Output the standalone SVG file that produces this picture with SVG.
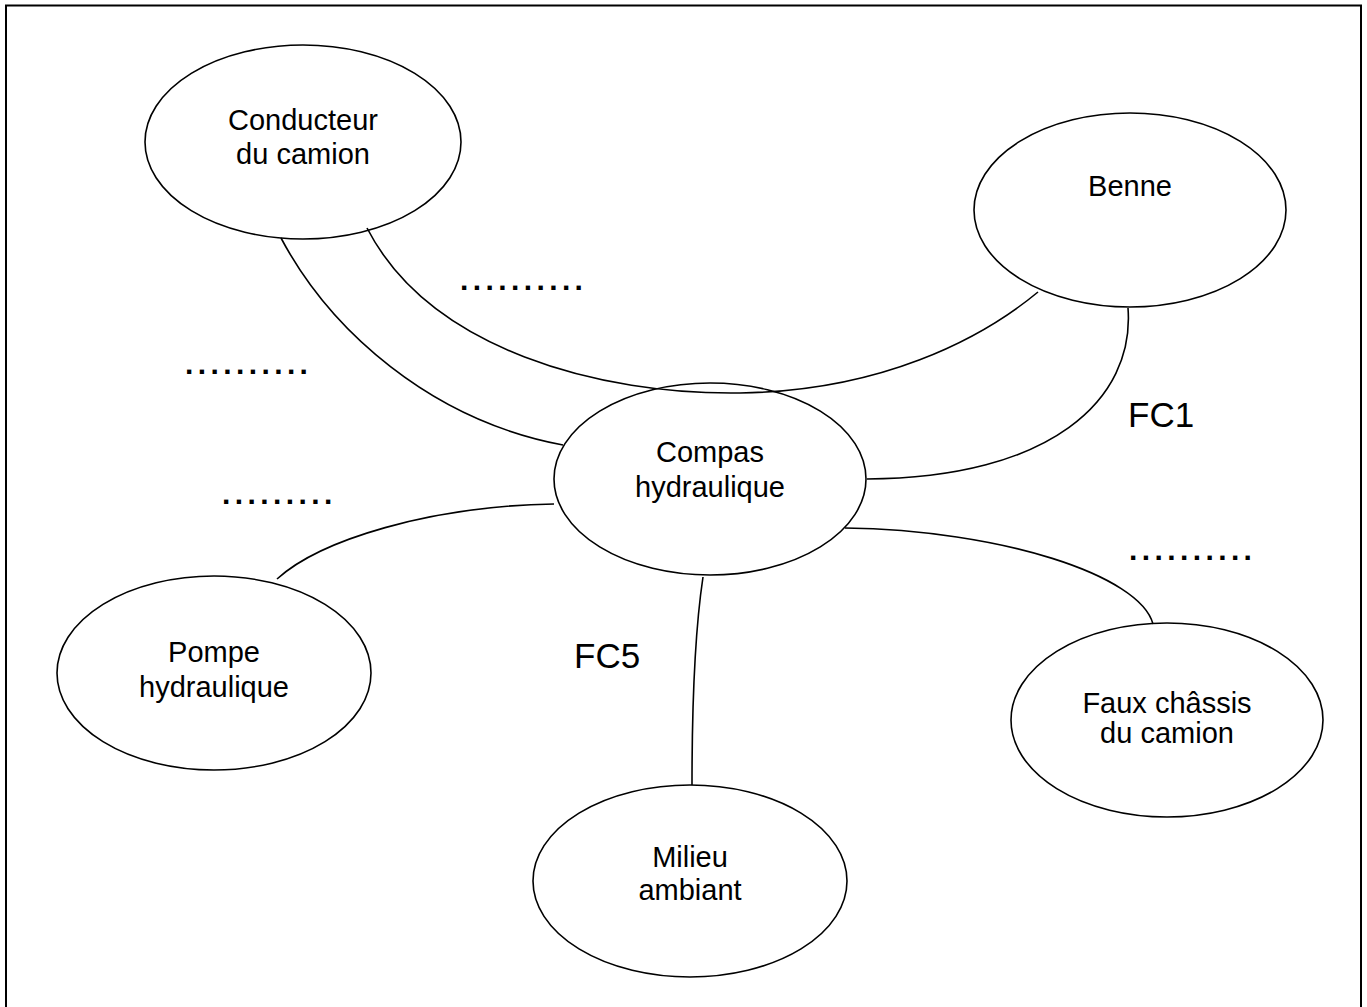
<svg xmlns="http://www.w3.org/2000/svg" width="1367" height="1007" viewBox="0 0 1367 1007">
<style>
  .node ellipse { fill: none; stroke: #000; stroke-width: 1.6; }
  .node text, .lbl { font-family: "Liberation Sans", Arial, sans-serif; font-size: 29px; fill: #000; text-anchor: middle; }
  .fc { font-family: "Liberation Sans", Arial, sans-serif; font-size: 35px; fill: #000; }
  .dots { font-family: "Liberation Sans", Arial, sans-serif; font-size: 30px; font-weight: bold; fill: #000; letter-spacing: 4.4px; }
  .conn path { fill: none; stroke: #000; stroke-width: 1.6; }
</style>
<rect x="0" y="0" width="1367" height="1007" fill="#fff"/>
<rect x="6" y="5.5" width="1355" height="1012" fill="none" stroke="#000" stroke-width="2"/>

<g id="conducteur" class="node">
  <ellipse cx="303" cy="142" rx="158" ry="97"/>
  <text x="303" y="130">Conducteur</text>
  <text x="303" y="164">du camion</text>
</g>
<g id="benne" class="node">
  <ellipse cx="1130" cy="210" rx="156" ry="97"/>
  <text x="1130" y="196">Benne</text>
</g>
<g id="compas" class="node">
  <ellipse cx="710" cy="479" rx="156" ry="96"/>
  <text x="710" y="462">Compas</text>
  <text x="710" y="497">hydraulique</text>
</g>
<g id="pompe" class="node">
  <ellipse cx="214" cy="673" rx="157" ry="97"/>
  <text x="214" y="662">Pompe</text>
  <text x="214" y="697">hydraulique</text>
</g>
<g id="milieu" class="node">
  <ellipse cx="690" cy="881" rx="157" ry="96"/>
  <text x="690" y="867">Milieu</text>
  <text x="690" y="900">ambiant</text>
</g>
<g id="faux" class="node">
  <ellipse cx="1167" cy="720" rx="156" ry="97"/>
  <text x="1167" y="713">Faux châssis</text>
  <text x="1167" y="743">du camion</text>
</g>

<g id="connectors" class="conn">
  <path d="M281,238 C330,330 430,420 563,445"/>
  <path d="M367,228 C430,350 600,395 740,393 C880,391 980,340 1038,292"/>
  <path d="M1128,308 C1135,400 1050,478 867,479"/>
  <path d="M554,504 C430,506 320,540 277,579"/>
  <path d="M845,528 C1000,530 1140,575 1153,624"/>
  <path d="M703,577 Q692,650 692,785"/>
</g>

<g id="labels">
  <text class="fc" x="1128" y="427">FC1</text>
  <text class="fc" x="574" y="668">FC5</text>
  <text class="dots" x="460" y="290">..........</text>
  <text class="dots" x="185" y="374">..........</text>
  <text class="dots" x="222" y="504">.........</text>
  <text class="dots" x="1129" y="560">..........</text>
</g>
</svg>
